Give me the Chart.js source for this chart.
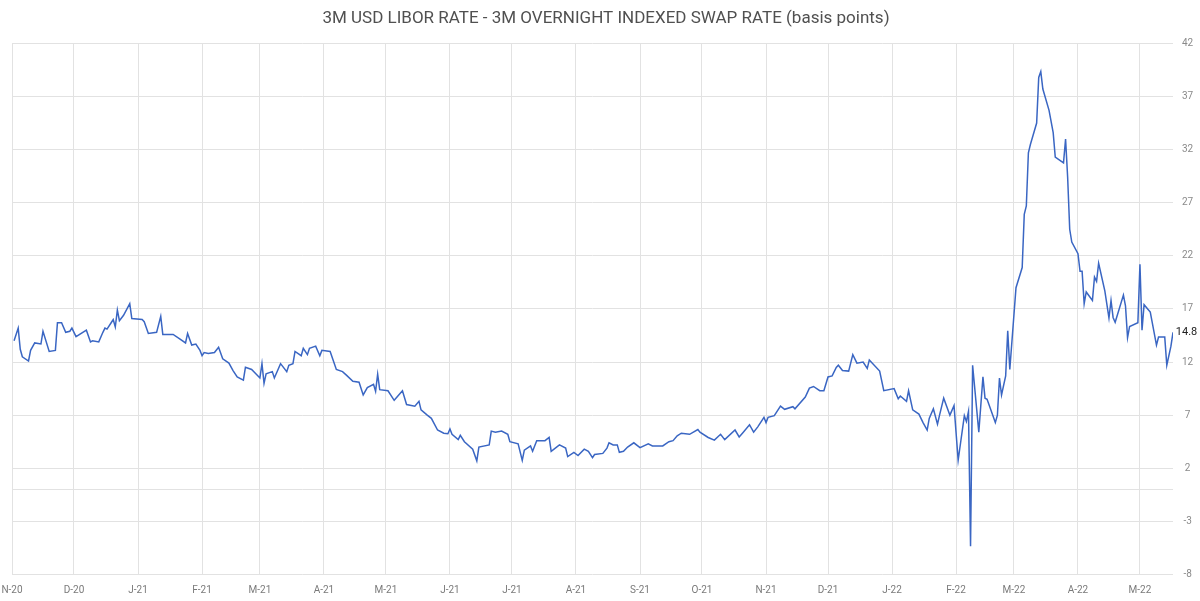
<!DOCTYPE html>
<html><head><meta charset="utf-8">
<script src="https://cdn.jsdelivr.net/npm/chart.js@4.4.1/dist/chart.umd.min.js"></script>
<style>html,body{margin:0;padding:0;background:#fff}#wrap{width:1200px;height:601px;position:relative}</style>
</head><body><div id="wrap"><canvas id="c"></canvas></div>
<script>
const chartTitle = '3M USD LIBOR RATE - 3M OVERNIGHT INDEXED SWAP RATE (basis points)';
const axisStart = '2020-11-01';

const dates = [
'2020-11-02','2020-11-04','2020-11-05','2020-11-06','2020-11-09','2020-11-10','2020-11-12','2020-11-15','2020-11-16','2020-11-19','2020-11-22','2020-11-23','2020-11-25','2020-11-27','2020-11-29','2020-11-30',
'2020-12-02','2020-12-07','2020-12-09','2020-12-10','2020-12-13','2020-12-15','2020-12-16','2020-12-17','2020-12-19','2020-12-20','2020-12-21','2020-12-22','2020-12-23','2020-12-25','2020-12-28','2020-12-29',
'2021-01-03','2021-01-04','2021-01-06','2021-01-10','2021-01-12','2021-01-13','2021-01-18','2021-01-21','2021-01-24','2021-01-25','2021-01-27','2021-01-29','2021-01-31',
'2021-02-01','2021-02-02','2021-02-04','2021-02-07','2021-02-09','2021-02-11','2021-02-14','2021-02-16','2021-02-18','2021-02-21','2021-02-22','2021-02-25',
'2021-03-01','2021-03-02','2021-03-03','2021-03-04','2021-03-07','2021-03-08','2021-03-11','2021-03-14','2021-03-15','2021-03-17','2021-03-18','2021-03-21','2021-03-22','2021-03-24','2021-03-25','2021-03-28','2021-03-30','2021-03-31',
'2021-04-04','2021-04-07','2021-04-10','2021-04-12','2021-04-15','2021-04-18','2021-04-20','2021-04-22','2021-04-25','2021-04-26','2021-04-27','2021-04-28',
'2021-05-02','2021-05-05','2021-05-09','2021-05-11','2021-05-15','2021-05-17','2021-05-18','2021-05-21','2021-05-23','2021-05-26','2021-05-29','2021-05-31',
'2021-06-01','2021-06-02','2021-06-05','2021-06-06','2021-06-08','2021-06-12','2021-06-14','2021-06-15','2021-06-20','2021-06-21','2021-06-23','2021-06-26','2021-06-29','2021-06-30',
'2021-07-04','2021-07-06','2021-07-07','2021-07-10','2021-07-11','2021-07-13','2021-07-17','2021-07-19','2021-07-20','2021-07-24','2021-07-27','2021-07-28','2021-07-31',
'2021-08-02','2021-08-05','2021-08-07','2021-08-09','2021-08-10','2021-08-14','2021-08-16','2021-08-17','2021-08-19','2021-08-21','2021-08-22','2021-08-24','2021-08-26','2021-08-29',
'2021-09-01','2021-09-05','2021-09-07','2021-09-12','2021-09-15','2021-09-17','2021-09-19','2021-09-21','2021-09-25','2021-09-29','2021-09-30',
'2021-10-04','2021-10-07','2021-10-10','2021-10-12','2021-10-17','2021-10-19','2021-10-21','2021-10-24','2021-10-26','2021-10-28','2021-10-31',
'2021-11-01','2021-11-02','2021-11-05','2021-11-08','2021-11-10','2021-11-14','2021-11-15','2021-11-20','2021-11-22','2021-11-24','2021-11-27','2021-11-29',
'2021-12-01','2021-12-03','2021-12-05','2021-12-06','2021-12-08','2021-12-11','2021-12-13','2021-12-15','2021-12-18','2021-12-20','2021-12-21','2021-12-26','2021-12-28',
'2022-01-02','2022-01-04','2022-01-05','2022-01-08','2022-01-09','2022-01-11','2022-01-14','2022-01-16','2022-01-18','2022-01-19','2022-01-21','2022-01-23','2022-01-24','2022-01-26','2022-01-29','2022-01-31',
'2022-02-02','2022-02-05','2022-02-06','2022-02-07','2022-02-08','2022-02-09','2022-02-12','2022-02-14','2022-02-15','2022-02-16','2022-02-20','2022-02-21','2022-02-22','2022-02-23','2022-02-25','2022-02-26','2022-02-27',
'2022-03-02','2022-03-05','2022-03-06','2022-03-07','2022-03-08','2022-03-09','2022-03-12','2022-03-13','2022-03-14','2022-03-15','2022-03-18','2022-03-20','2022-03-21','2022-03-25','2022-03-26','2022-03-27','2022-03-28','2022-03-29',
'2022-04-01','2022-04-02','2022-04-03','2022-04-04','2022-04-05','2022-04-08','2022-04-09','2022-04-10','2022-04-11','2022-04-14','2022-04-16','2022-04-17','2022-04-18','2022-04-19','2022-04-23','2022-04-24','2022-04-25','2022-04-26','2022-04-30',
'2022-05-01','2022-05-02','2022-05-03','2022-05-06','2022-05-09','2022-05-10','2022-05-13','2022-05-14','2022-05-16','2022-05-17'
];

const values = [
14.0,15.2,13.2,12.5,12.1,13.1,13.8,13.7,14.9,13.0,13.1,15.7,15.7,14.8,14.9,15.2,
14.4,15.0,13.9,14.0,13.9,14.8,15.2,15.1,15.7,16.0,15.3,16.9,15.9,16.4,17.5,16.1,
16.0,15.8,14.7,14.8,16.3,14.6,14.6,14.2,13.8,14.7,13.6,13.7,13.1,
12.6,12.9,12.8,12.9,13.4,12.3,11.9,11.2,10.6,10.3,11.5,11.3,
10.5,11.85,10.0,10.9,11.1,10.5,11.85,11.1,11.7,11.85,13.0,12.6,13.3,12.7,13.3,13.5,12.6,13.1,
13.0,11.3,11.1,10.75,10.2,10.1,8.9,9.6,9.9,9.25,10.85,9.4,
9.3,8.4,9.3,8.0,7.85,8.3,7.5,7.0,6.7,5.6,5.3,5.25,
5.7,5.2,4.7,5.1,4.5,3.8,2.7,4.0,4.2,5.5,5.4,5.5,5.2,4.5,
4.3,2.75,3.7,4.1,3.6,4.6,4.6,4.9,3.6,4.2,3.9,3.1,3.5,
3.2,3.8,3.6,3.0,3.3,3.4,3.9,4.4,4.2,4.2,3.5,3.6,4.0,4.4,
3.95,4.3,4.1,4.1,4.5,4.6,5.05,5.3,5.2,5.65,5.4,
4.9,4.65,5.2,4.7,5.6,4.95,5.4,6.1,5.4,5.9,6.8,
6.3,6.8,6.95,7.85,7.55,7.8,7.6,8.7,9.55,9.7,9.3,9.3,
10.6,10.7,11.5,11.7,11.2,11.15,12.7,11.9,12.0,11.4,12.2,11.15,9.3,
9.5,8.55,8.8,8.3,9.3,7.5,7.1,6.3,5.6,6.7,7.6,6.15,7.0,8.6,7.0,7.9,
2.75,6.95,6.4,7.35,-5.35,11.7,5.4,10.6,8.6,8.5,6.3,7.0,10.5,8.9,10.7,14.95,11.3,
19.0,20.9,25.9,26.7,31.7,32.5,34.5,38.8,39.35,37.7,35.7,33.6,31.3,30.75,33.0,29.4,24.5,23.3,
22.2,20.55,20.55,17.5,18.6,17.8,20.0,19.6,21.3,18.7,16.15,17.8,16.2,15.75,18.3,17.3,14.3,15.35,15.7,
21.2,15.0,17.4,16.7,13.6,14.35,14.35,11.7,13.5,14.8
];

const monthTickDates = ['2020-11-01','2020-12-01','2021-01-01','2021-02-01','2021-03-01','2021-04-01','2021-05-01','2021-06-01','2021-07-01','2021-08-01','2021-09-01','2021-10-01','2021-11-01','2021-12-01','2022-01-01','2022-02-01','2022-03-01','2022-04-01','2022-05-01'];
const monthTickLabels = ['N-20','D-20','J-21','F-21','M-21','A-21','M-21','J-21','J-21','A-21','S-21','O-21','N-21','D-21','J-22','F-22','M-22','A-22','M-22'];
const yTickValues = [-8,-3,2,7,12,17,22,27,32,37,42];
const zeroLine = [0];

const DAY = 86400000;
const t0 = Date.parse(axisStart + 'T00:00:00Z');
const toDay = s => Math.round((Date.parse(s + 'T00:00:00Z') - t0) / DAY);
const points = dates.map((d, i) => ({x: toDay(d), y: values[i]}));
const tickDays = monthTickDates.map(toDay);
const labelByDay = {};
tickDays.forEach((d, i) => { labelByDay[d] = monthTickLabels[i]; });

const FONT = 'Roboto, "DejaVu Sans", sans-serif';

const lastLabel = {
  id: 'lastLabel',
  afterDraw(chart) {
    const ys = chart.scales.y;
    const ctx = chart.ctx;
    const v = values[values.length - 1];
    const py = ys.getPixelForValue(v);
    ctx.save();
    ctx.font = '11px ' + FONT;
    ctx.fillStyle = '#222';
    ctx.textAlign = 'center';
    ctx.textBaseline = 'middle';
    ctx.fillText(v.toFixed(1), ys.left + 13.5, py);
    ctx.restore();
  }
};

new Chart(document.getElementById('c'), {
  type: 'line',
  data: {
    datasets: [{
      data: points,
      borderColor: '#3a66c3',
      borderWidth: 1.5,
      pointRadius: 0,
      tension: 0,
      fill: false
    }]
  },
  options: {
    responsive: true,
    maintainAspectRatio: false,
    animation: false,
    layout: {padding: {left: 12, right: 0, top: 0, bottom: 0}},
    plugins: {
      legend: {display: false},
      tooltip: {enabled: false},
      title: {
        display: true,
        text: chartTitle,
        color: '#505050',
        font: {family: FONT, size: 17, weight: 'normal'},
        padding: {top: 9, bottom: 14}
      }
    },
    scales: {
      x: {
        type: 'linear',
        min: toDay(axisStart),
        max: toDay(dates[dates.length - 1]),
        afterBuildTicks(scale) { scale.ticks = tickDays.map(v => ({value: v})); },
        afterFit(scale) { scale.height = 26.5; scale.paddingLeft = 0; scale.paddingRight = 0; },
        grid: {color: '#e2e2e2', lineWidth: 1, drawTicks: false},
        border: {display: false},
        ticks: {
          autoSkip: false, maxRotation: 0, padding: 10,
          color: '#7a7a7a', font: {family: FONT, size: 10},
          callback: v => labelByDay[v] ?? ''
        }
      },
      y: {
        position: 'right',
        min: yTickValues[0],
        max: yTickValues[yTickValues.length - 1],
        afterBuildTicks(scale) {
          scale.ticks = yTickValues.concat(zeroLine).sort((a, b) => a - b).map(v => ({value: v}));
        },
        afterFit(scale) { scale.width = 27; },
        grid: {color: '#e2e2e2', lineWidth: 1, drawTicks: false},
        border: {display: false},
        ticks: {
          padding: 9, crossAlign: 'center',
          color: '#8a8a8a', font: {family: FONT, size: 10},
          callback: v => (zeroLine.includes(v) ? '' : String(v))
        }
      }
    }
  },
  plugins: [lastLabel]
});
</script>
</body></html>
